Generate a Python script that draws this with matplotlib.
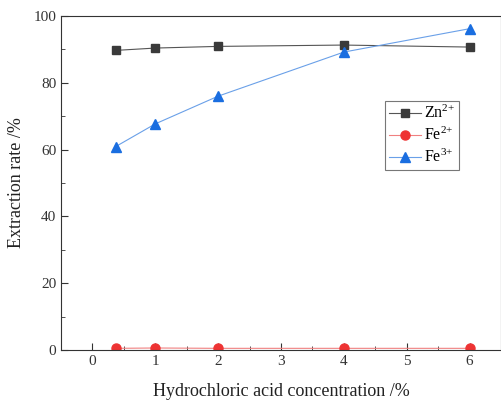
import matplotlib
matplotlib.use("Agg")
import matplotlib.pyplot as plt
from matplotlib.ticker import MultipleLocator

x = [0.37, 1, 2, 4, 6]
zn = [89.7, 90.4, 90.9, 91.3, 90.7]
fe2 = [0.5, 0.6, 0.5, 0.5, 0.5]
fe3 = [60.9, 67.7, 76.0, 89.2, 96.2]

plt.rcParams['font.family'] = ['Liberation Serif', 'DejaVu Serif']
plt.rcParams['mathtext.fontset'] = 'custom'
plt.rcParams['mathtext.rm'] = 'Liberation Serif'
plt.rcParams['mathtext.it'] = 'Liberation Serif'
fig = plt.figure(figsize=(5.02, 4.0), dpi=100)
ax = fig.add_axes([61/502, 50/400, 440/502, 334/400])
ax.plot(x, zn, color='#555555', lw=0.8, marker='s', ms=6, mfc='#3a3a3a', mec='#3a3a3a', label=r'Zn$^{\mathrm{2{+}}}$')
ax.plot(x, fe2, color='#f08080', lw=0.8, marker='o', ms=6.5, mfc='#ee3333', mec='#ee3333', label=r'Fe$^{\mathrm{2{+}}}$')
ax.plot(x, fe3, color='#6aa0e8', lw=0.8, marker='^', ms=7, mfc='#1a6ee0', mec='#1a6ee0', label=r'Fe$^{\mathrm{3{+}}}$')
ax.set_xlim(-0.5, 6.5)
ax.set_ylim(0, 100)
ax.xaxis.set_major_locator(MultipleLocator(1))
ax.xaxis.set_minor_locator(MultipleLocator(0.5))
ax.yaxis.set_major_locator(MultipleLocator(20))
ax.yaxis.set_minor_locator(MultipleLocator(10))
ax.tick_params(which='both', direction='in', labelsize=11, color='#333333', labelcolor='#333333')
ax.tick_params(which='major', length=5)
ax.tick_params(which='minor', length=3)
for s in ax.spines.values():
    s.set_color('#333333')
ax.set_xlabel('Hydrochloric acid concentration /%', fontsize=13, color='#222222', labelpad=11)
ax.set_ylabel('Extraction rate /%', fontsize=13, color='#222222', labelpad=6)
leg = ax.legend(loc='upper left', bbox_to_anchor=((385-61)/440, (350-101)/334), fontsize=11.5, frameon=True, fancybox=False,
                edgecolor='#555555', handlelength=2.0, borderpad=0.25, labelspacing=0.3, handletextpad=0.2,
                borderaxespad=0)
leg.get_frame().set_linewidth(0.8)
fig.savefig('out.png', dpi=100)
